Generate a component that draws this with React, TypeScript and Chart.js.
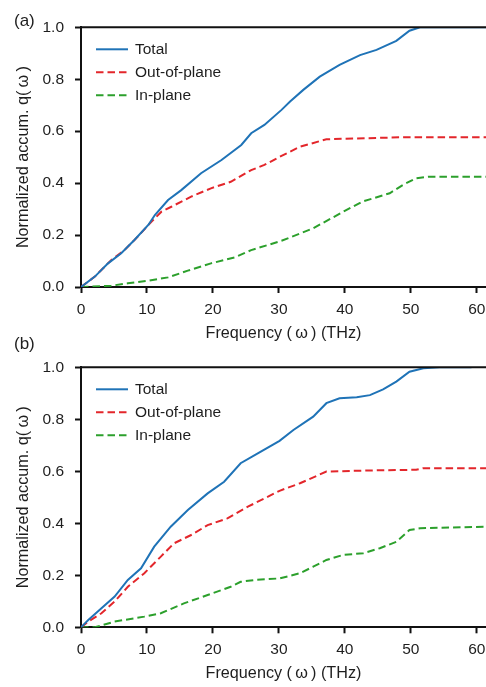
import React, { useEffect, useRef } from "react";
import { Chart, registerables } from "chart.js";

Chart.register(...registerables);

// ---------------- Data ----------------
const X_TICKS_STEP = 10;
const Y_TICKS_STEP = 0.2;
const SERIES_LABELS = ["Total", "Out-of-plane", "In-plane"];

// Panel (a)
const A_TOTAL_F = [0, 2.1, 4.1, 6.1, 8.1, 10.2, 11.2, 13.2, 15.2, 18.2, 21.3, 24.3, 25.8, 27.8, 30.4, 31.7, 33.7, 36.2, 39.2, 42.3, 44.8, 47.8, 49.8, 51.4, 61.4];
const A_TOTAL_Q = [0, 0.04, 0.091, 0.13, 0.181, 0.239, 0.277, 0.335, 0.373, 0.438, 0.489, 0.547, 0.592, 0.624, 0.682, 0.714, 0.759, 0.81, 0.855, 0.893, 0.913, 0.948, 0.987, 1.0, 1.0];
const A_OUT_F = [0, 2.1, 4.6, 6.6, 8.6, 10.7, 12.2, 13.7, 16.7, 19.7, 22.7, 25.8, 27.8, 30.4, 33.2, 37.2, 43.3, 49.3, 61.4];
const A_OUT_Q = [0, 0.04, 0.104, 0.142, 0.194, 0.252, 0.29, 0.309, 0.348, 0.38, 0.405, 0.45, 0.47, 0.505, 0.54, 0.569, 0.573, 0.577, 0.577];
const A_IN_F = [0, 4.6, 7.1, 10.2, 13.2, 16.2, 19.7, 23.3, 25.8, 30.4, 35.2, 40.2, 42.7, 46.8, 48.8, 50.8, 52.8, 61.4];
const A_IN_Q = [0, 0.005, 0.014, 0.024, 0.037, 0.063, 0.091, 0.114, 0.142, 0.178, 0.226, 0.296, 0.329, 0.361, 0.393, 0.419, 0.425, 0.425];

// Panel (b)
const B_TOTAL_F = [0, 1.1, 3.1, 5.1, 7.1, 9.1, 11.1, 13.6, 16.2, 19.2, 21.7, 24.2, 26.8, 30.1, 32.2, 35.2, 37.2, 39.2, 41.8, 43.8, 45.8, 47.8, 49.8, 51.9, 54.4, 59.2];
const B_TOTAL_Q = [0, 0.028, 0.073, 0.118, 0.182, 0.227, 0.31, 0.387, 0.451, 0.515, 0.56, 0.631, 0.669, 0.717, 0.759, 0.81, 0.862, 0.881, 0.885, 0.893, 0.915, 0.945, 0.983, 0.996, 1.0, 1.0];
const B_OUT_F = [0, 1.1, 3.1, 5.1, 7.1, 9.6, 12.1, 14.1, 16.7, 19.2, 22.2, 25.3, 30.1, 33.2, 37.2, 43.3, 50.8, 51.9, 61.4];
const B_OUT_Q = [0, 0.022, 0.054, 0.099, 0.156, 0.208, 0.272, 0.323, 0.355, 0.393, 0.419, 0.464, 0.525, 0.554, 0.599, 0.603, 0.606, 0.612, 0.612];
const B_IN_F = [0, 2.1, 5.1, 9.6, 12.1, 15.6, 19.2, 22.7, 24.2, 26.3, 30.1, 33.2, 35.2, 37.2, 39.7, 42.8, 45.3, 47.8, 49.8, 51.4, 61.4];
const B_IN_Q = [0, 0.0, 0.022, 0.041, 0.054, 0.092, 0.124, 0.156, 0.175, 0.182, 0.188, 0.208, 0.233, 0.259, 0.278, 0.285, 0.304, 0.329, 0.374, 0.381, 0.387];

// ---------------- Styles ----------------
const FONT = '"Liberation Sans", Arial, Helvetica, sans-serif';
const TEXT = "#1e1e1e";
const AXIS = "#111";
const COLORS = ["#1f73b7", "#e3262b", "#2ca02c"];
const DASHES: number[][] = [[], [7.5, 4], [7.5, 4]];
const TITLE_SIZE = 16.2;

const zip = (xs: number[], ys: number[]) => xs.map((x, i) => ({ x, y: ys[i] }));

const framePlugin = {
  id: "frame",
  afterDraw(chart: any, _args: any, opts: any) {
    const { ctx, chartArea } = chart;
    ctx.save();
    // top spine
    ctx.strokeStyle = AXIS;
    ctx.lineWidth = 2;
    ctx.setLineDash([]);
    ctx.beginPath();
    ctx.moveTo(chartArea.left - 1, chartArea.top);
    ctx.lineTo(chartArea.right, chartArea.top);
    ctx.stroke();
    // inside legend
    ctx.font = `15.5px ${FONT}`;
    ctx.textBaseline = "middle";
    ctx.textAlign = "left";
    chart.data.datasets.forEach((ds: any, i: number) => {
      const y = chartArea.top + 22 + i * 23;
      const x0 = chartArea.left + 15;
      ctx.strokeStyle = ds.borderColor;
      ctx.lineWidth = ds.borderWidth;
      ctx.setLineDash(ds.borderDash || []);
      ctx.beginPath();
      ctx.moveTo(x0, y);
      ctx.lineTo(x0 + 32, y);
      ctx.stroke();
      ctx.setLineDash([]);
      ctx.fillStyle = TEXT;
      ctx.fillText(ds.label, x0 + 39, y + 0.5);
    });
    // panel label
    ctx.font = `17px ${FONT}`;
    ctx.fillStyle = TEXT;
    ctx.fillText(opts.label, 14, opts.labelY);
    ctx.restore();
  },
};

function makeConfig(series: { f: number[]; q: number[] }[], label: string, labelY: number, H: number, top: number, bottom: number) {
  const titleOffset = 46.5; // distance from axis to x-title centre
  const pb = H - (bottom + titleOffset) - (TITLE_SIZE * 1.2) / 2;
  return {
    type: "line",
    data: {
      datasets: series.map((s, i) => ({
        label: SERIES_LABELS[i],
        data: zip(s.f, s.q),
        borderColor: COLORS[i],
        borderWidth: 2,
        borderDash: DASHES[i],
        pointRadius: 0,
        tension: 0,
        fill: false,
      })),
    },
    options: {
      animation: false,
      responsive: false,
      devicePixelRatio: 1,
      layout: { padding: { top, left: 0, right: 0, bottom: 0 } },
      plugins: {
        legend: { display: false },
        tooltip: { enabled: false },
        frame: { label, labelY },
      },
      scales: {
        x: {
          type: "linear",
          min: 0,
          max: 61.4,
          afterFit: (s: any) => {
            s.height = H - bottom;
            s.paddingLeft = 0;
            s.paddingRight = 0;
          },
          ticks: {
            stepSize: X_TICKS_STEP,
            includeBounds: false,
            color: TEXT,
            padding: 7,
            maxRotation: 0,
            font: { family: FONT, size: 15.5 },
          },
          grid: {
            display: true,
            drawOnChartArea: false,
            drawTicks: true,
            tickLength: 6,
            tickWidth: 2,
            tickColor: AXIS,
          },
          border: { display: true, color: AXIS, width: 2 },
          title: {
            display: true,
            text: "Frequency (\u2009\u03C9\u2009) (THz)",
            color: TEXT,
            font: { family: FONT, size: TITLE_SIZE },
            padding: { top: 0, bottom: pb },
          },
        },
        y: {
          type: "linear",
          min: 0,
          max: 1,
          afterFit: (s: any) => {
            s.width = 81;
          },
          ticks: {
            stepSize: Y_TICKS_STEP,
            color: TEXT,
            padding: 11,
            font: { family: FONT, size: 15.5 },
            callback: (v: any) => Number(v).toFixed(1),
          },
          grid: {
            display: true,
            drawOnChartArea: false,
            drawTicks: true,
            tickLength: 6,
            tickWidth: 2,
            tickColor: AXIS,
          },
          border: { display: true, color: AXIS, width: 2 },
          title: {
            display: true,
            text: "Normalized accum. q(\u2009\u03C9\u2009)",
            color: TEXT,
            font: { family: FONT, size: TITLE_SIZE },
            padding: { top: 14.3, bottom: 4 },
          },
        },
      },
    },
    plugins: [framePlugin],
  } as any;
}

const PANEL_A = { top: 0, H: 345, areaTop: 27.3, areaBottom: 287 };
const PANEL_B = { top: 333, H: 354, areaTop: 34.3, areaBottom: 294.3 };

export default function App() {
  const refA = useRef<HTMLCanvasElement>(null);
  const refB = useRef<HTMLCanvasElement>(null);

  useEffect(() => {
    const chartA = new Chart(
      refA.current as HTMLCanvasElement,
      makeConfig(
        [
          { f: A_TOTAL_F, q: A_TOTAL_Q },
          { f: A_OUT_F, q: A_OUT_Q },
          { f: A_IN_F, q: A_IN_Q },
        ],
        "(a)",
        21,
        PANEL_A.H,
        PANEL_A.areaTop,
        PANEL_A.areaBottom
      )
    );
    const chartB = new Chart(
      refB.current as HTMLCanvasElement,
      makeConfig(
        [
          { f: B_TOTAL_F, q: B_TOTAL_Q },
          { f: B_OUT_F, q: B_OUT_Q },
          { f: B_IN_F, q: B_IN_Q },
        ],
        "(b)",
        11.5,
        PANEL_B.H,
        PANEL_B.areaTop,
        PANEL_B.areaBottom
      )
    );
    return () => {
      chartA.destroy();
      chartB.destroy();
    };
  }, []);

  return (
    <div style={{ position: "absolute", left: 0, top: 0, width: 486, height: 687, background: "#fff", overflow: "hidden" }}>
      <canvas ref={refA} width={486} height={PANEL_A.H} style={{ position: "absolute", left: 0, top: PANEL_A.top, width: 486, height: PANEL_A.H }} />
      <canvas ref={refB} width={486} height={PANEL_B.H} style={{ position: "absolute", left: 0, top: PANEL_B.top, width: 486, height: PANEL_B.H }} />
    </div>
  );
}
